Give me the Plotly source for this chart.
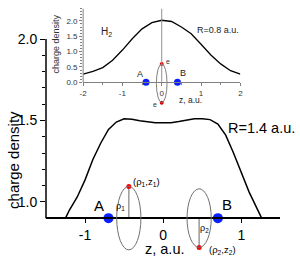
import plotly.graph_objects as go

# ---------------- data ----------------
# main panel (R = 1.4 a.u.)
main_z = [-1.25, -1.2, -1.1, -1.0, -0.9, -0.8, -0.7, -0.6, -0.5, -0.4, -0.3, -0.2, -0.1, 0.0,
          0.1, 0.2, 0.3, 0.4, 0.5, 0.6, 0.7, 0.8, 0.9, 1.0, 1.1, 1.2, 1.26]
main_rho = [0.90, 0.95, 1.03, 1.135, 1.26, 1.36, 1.445, 1.49, 1.51, 1.507, 1.498, 1.49, 1.486, 1.485,
            1.486, 1.493, 1.503, 1.51, 1.51, 1.505, 1.478, 1.41, 1.30, 1.18, 1.06, 0.96, 0.90]
main_nuclei_z = [-0.7, 0.7]
main_nuclei_lbl = ["A", "B"]
main_elec_z = [-0.44, 0.46]
main_elec_rho = [0.195, -0.18]          # signed radial offset (drawn on the density axis)
main_ring_halfwidth = 0.155

# inset (R = 0.8 a.u., H2)
ins_z = [-2.0, -1.75, -1.5, -1.25, -1.0, -0.75, -0.5, -0.25, 0.0,
         0.25, 0.5, 0.75, 1.0, 1.25, 1.5, 1.75, 2.0]
ins_rho = [0.27, 0.36, 0.48, 0.72, 1.05, 1.42, 1.74, 1.94, 2.02,
           1.98, 1.80, 1.58, 1.24, 0.89, 0.60, 0.38, 0.265]
ins_nuclei_z = [-0.4, 0.4]
ins_elec_z = [0.0, 0.0]
ins_elec_rho = [0.6, -0.66]
ins_ring_halfwidth = 0.135

main_ytick_vals = [1.0, 1.5, 2.0]
main_ytick_text = ["1.0", "1.5", "2.0"]
main_yminor = [1.1, 1.2, 1.3, 1.4, 1.6, 1.7, 1.8, 1.9]
main_xtick_vals = [-1, 0, 1]
ins_ytick_vals = [0.0, 0.5, 1.0, 1.5, 2.0]
ins_ytick_text = ["0.0", "0.5", "1.0", "1.5", "2.0"]
ins_yminor = [round(0.1 * i, 1) for i in range(0, 25)]
ins_xtick_vals = [-2, -1, 0, 1, 2]
ins_xminor = [-1.5, -0.5, 0.5, 1.5]

BASE_Y = 0.9          # main axis baseline
W, H = 300, 259
FONT = "Arial, Liberation Sans, sans-serif"


def px(x, y):
    return x / W, 1 - y / H


fig = go.Figure()

# main curve
fig.add_trace(go.Scatter(x=main_z, y=main_rho, mode="lines",
                         line=dict(color="black", width=1.5), xaxis="x", yaxis="y",
                         showlegend=False, hoverinfo="skip"))
# main electron radial lines
for ez, er in zip(main_elec_z, main_elec_rho):
    fig.add_trace(go.Scatter(x=[ez, ez], y=[BASE_Y, BASE_Y + er], mode="lines",
                             line=dict(color="#9a9a9a", width=1.5), xaxis="x", yaxis="y",
                             showlegend=False, hoverinfo="skip"))
# nuclei
fig.add_trace(go.Scatter(x=main_nuclei_z, y=[BASE_Y] * 2, mode="markers",
                         marker=dict(color="#0a1fff", size=10), cliponaxis=False,
                         xaxis="x", yaxis="y", showlegend=False, hoverinfo="skip"))
# electrons
fig.add_trace(go.Scatter(x=main_elec_z, y=[BASE_Y + r for r in main_elec_rho], mode="markers",
                         marker=dict(color="#ff0000", size=5), cliponaxis=False,
                         xaxis="x", yaxis="y", showlegend=False, hoverinfo="skip"))

# inset curve
fig.add_trace(go.Scatter(x=ins_z, y=ins_rho, mode="lines",
                         line=dict(color="black", width=1.3), xaxis="x2", yaxis="y2",
                         showlegend=False, hoverinfo="skip"))
fig.add_trace(go.Scatter(x=ins_nuclei_z, y=[0, 0], mode="markers",
                         marker=dict(color="#0a1fff", size=7), cliponaxis=False,
                         xaxis="x2", yaxis="y2", showlegend=False, hoverinfo="skip"))
fig.add_trace(go.Scatter(x=ins_elec_z, y=ins_elec_rho, mode="markers",
                         marker=dict(color="#dd0000", size=4), cliponaxis=False,
                         xaxis="x2", yaxis="y2", showlegend=False, hoverinfo="skip"))

shapes = []
# main y-axis line (from baseline up)
shapes.append(dict(type="line", xref="x domain", yref="y", x0=0, x1=0, y0=BASE_Y, y1=2.0,
                   line=dict(color="black", width=1.5)))
# main rings
for ez, er in zip(main_elec_z, main_elec_rho):
    r = abs(er)
    shapes.append(dict(type="circle", xref="x", yref="y",
                       x0=ez - main_ring_halfwidth, x1=ez + main_ring_halfwidth,
                       y0=BASE_Y - r, y1=BASE_Y + r, line=dict(color="#707070", width=1)))
# inset y-axis line
shapes.append(dict(type="line", xref="x2 domain", yref="y2", x0=0, x1=0, y0=0, y1=2.4,
                   line=dict(color="#808080", width=1)))
# inset vertical line at z=0
shapes.append(dict(type="line", xref="x2", yref="y2", x0=0, x1=0, y0=0, y1=2.4,
                   line=dict(color="#909090", width=1)))
# inset ring
shapes.append(dict(type="circle", xref="x2", yref="y2",
                   x0=ins_elec_z[0] - ins_ring_halfwidth, x1=ins_elec_z[0] + ins_ring_halfwidth,
                   y0=ins_elec_rho[1], y1=ins_elec_rho[0], line=dict(color="#808080", width=1)))

ann = []


def label(text, x, y, size, angle=0, color="black"):
    ax, ay = px(x, y)
    ann.append(dict(text=text, x=ax, y=ay, xref="paper", yref="paper", showarrow=False,
                    xanchor="center", yanchor="middle", textangle=angle,
                    font=dict(size=size, color=color, family=FONT)))


# main texts
label("charge density", 9, 157, 15, angle=-90)
label("z, a.u.", 165, 249, 14.5)
label("R=1.4 a.u.", 264, 124, 14.5)
label(main_nuclei_lbl[0], 97, 204, 15)
label(main_nuclei_lbl[1], 228, 203, 15)
label("ρ<sub>1</sub>", 119, 205, 9)
label("(ρ<sub>1</sub>,z<sub>1</sub>)", 146, 180, 9.5)
label("ρ<sub>2</sub>", 205, 228, 9)
label("(ρ<sub>2</sub>,z<sub>2</sub>)", 224, 250, 9.5)
# inset texts
label("charge density", 53, 37, 9, angle=-90, color="#333")
label("H<sub>2</sub>", 105, 25, 10, color="#222")
label("R=0.8 a.u.", 219, 23, 9, color="#222")
label("z, a.u.", 191, 95, 8.5, color="#222")
label("A", 139, 68, 9, color="#222")
label("B", 183, 67, 9, color="#222")
label("e", 168, 55, 7, color="#333")
label("e", 155, 100, 7, color="#333")

main_x_dom = [43 / W, 283 / W]
main_y_dom = [1 - 253.8 / H, 1 - 32 / H]
ins_x_dom = [81 / W, 242 / W]
ins_y_dom = [1 - 100.5 / H, 1 - 0.6 / H]

fig.update_layout(
    width=W, height=H, margin=dict(l=0, r=0, t=0, b=0),
    paper_bgcolor="white", plot_bgcolor="rgba(0,0,0,0)",
    font=dict(family=FONT, color="black"),
    shapes=shapes, annotations=ann,
    xaxis=dict(domain=main_x_dom, range=[-1.5, 1.5], anchor="free", position=1 - 216.8 / H,
               showline=True, linecolor="black", linewidth=1.5, showgrid=False, zeroline=False,
               ticks="outside", ticklen=4, tickwidth=1.3, tickcolor="black",
               tickmode="array", tickvals=main_xtick_vals, ticktext=["-1", "0", "1"],
               tickfont=dict(size=14, family=FONT)),
    yaxis=dict(domain=main_y_dom, range=[0.68, 2.0], anchor="x",
               showline=False, showgrid=False, zeroline=False,
               ticks="outside", ticklen=5, tickwidth=1.3, tickcolor="black",
               tickmode="array", tickvals=main_ytick_vals, ticktext=main_ytick_text,
               tickfont=dict(size=14, family=FONT),
               minor=dict(tickmode="array", tickvals=main_yminor, ticks="outside",
                          ticklen=3, tickwidth=1.2, tickcolor="black", showgrid=False)),
    xaxis2=dict(domain=ins_x_dom, range=[-2, 2], anchor="free", position=1 - 76.7 / H,
                showline=True, linecolor="#808080", linewidth=1, showgrid=False, zeroline=False,
                ticks="outside", ticklen=3, tickwidth=1, tickcolor="#808080",
                tickmode="array", tickvals=ins_xtick_vals, ticktext=["-2", "-1", "0", "1", "2"],
                tickfont=dict(size=8, family=FONT, color="#333"),
                minor=dict(tickmode="array", tickvals=ins_xminor, ticks="outside",
                           ticklen=2, tickcolor="#808080", showgrid=False)),
    yaxis2=dict(domain=ins_y_dom, range=[-0.75, 2.4], anchor="x2",
                showline=False, showgrid=False, zeroline=False,
                ticks="outside", ticklen=3, tickwidth=1, tickcolor="#808080",
                tickmode="array", tickvals=ins_ytick_vals, ticktext=ins_ytick_text,
                tickfont=dict(size=8, family=FONT, color="#333"),
                minor=dict(tickmode="array", tickvals=ins_yminor, ticks="outside",
                           ticklen=2, tickcolor="#808080", showgrid=False)),
)

fig.write_html("out.html")
